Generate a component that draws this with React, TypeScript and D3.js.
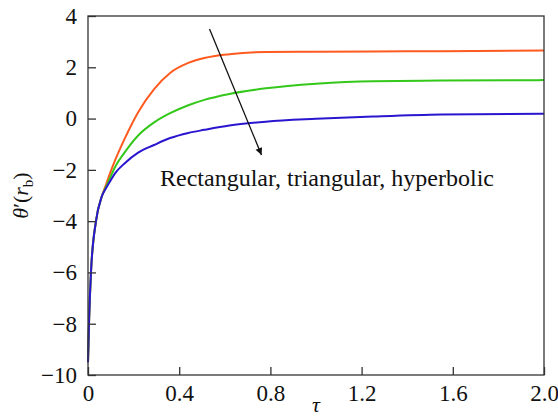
import React, { useEffect, useRef } from "react";
import * as d3 from "d3";

// values
const tau = [0, 0.005, 0.013, 0.035, 0.06, 0.08, 0.1, 0.12, 0.16, 0.22, 0.29, 0.36, 0.44, 0.51, 0.62, 0.78, 1.0, 1.25, 1.55, 2.0];
const rectangular = [-9.5, -7.8, -6, -4, -3.05, -2.55, -2.05, -1.6, -0.8, 0.25, 1.15, 1.78, 2.17, 2.36, 2.51, 2.6, 2.61, 2.62, 2.63, 2.65];
const triangular = [-9.5, -7.8, -6, -4, -3.05, -2.65, -2.25, -1.87, -1.33, -0.66, -0.15, 0.21, 0.52, 0.73, 0.96, 1.18, 1.36, 1.46, 1.48, 1.5];
const hyperbolic = [-9.5, -7.8, -6, -4, -3.05, -2.7, -2.4, -2.12, -1.75, -1.33, -1.03, -0.76, -0.56, -0.44, -0.27, -0.12, -0.01, 0.08, 0.16, 0.19];

const seriesColors = ["#ff5a1f", "#33c81a", "#2b16d0"];
const xTicks = [0, 0.4, 0.8, 1.2, 1.6, 2.0];
const yTicks = [4, 2, 0, -2, -4, -6, -8, -10];

const arrowFrom = [0.533, 3.49];
const arrowTo = [0.761, -1.42];
const noteAt = [0.316, -2.62];
const noteText = "Rectangular, triangular, hyperbolic";

const W = 558;
const H = 418;
const margin = { top: 16, right: 14, bottom: 43, left: 88 };

const App = () => {
  const ref = useRef(null);

  useEffect(() => {
    const root = d3.select(ref.current);
    root.selectAll("*").remove();

    const x = d3.scaleLinear().domain([0, 2]).range([margin.left, W - margin.right]);
    const y = d3.scaleLinear().domain([-10, 4]).range([H - margin.bottom, margin.top]);

    const font = "'Liberation Serif', 'Times New Roman', serif";

    const defs = root.append("defs");
    defs
      .append("marker")
      .attr("id", "head")
      .attr("viewBox", "0 0 10 10")
      .attr("refX", 10)
      .attr("refY", 5)
      .attr("markerWidth", 10)
      .attr("markerHeight", 7)
      .attr("markerUnits", "userSpaceOnUse")
      .attr("orient", "auto")
      .append("path")
      .attr("d", "M0,0 L10,5 L0,10 z")
      .attr("fill", "#111");

    // curves
    const line = d3
      .line()
      .x((d) => x(d[0]))
      .y((d) => y(d[1]))
      .curve(d3.curveMonotoneX);

    [rectangular, triangular, hyperbolic].forEach((vals, i) => {
      root
        .append("path")
        .datum(tau.map((t, j) => [t, vals[j]]))
        .attr("fill", "none")
        .attr("stroke", seriesColors[i])
        .attr("stroke-width", 2)
        .attr("d", line);
    });

    // axes (ticks pointing inward)
    const xAxis = root
      .append("g")
      .attr("transform", `translate(0,${H - margin.bottom})`)
      .call(
        d3
          .axisBottom(x)
          .tickValues(xTicks)
          .tickSize(-8)
          .tickPadding(10)
          .tickFormat((d) => (d === 0 ? "0" : d3.format(".1f")(d)))
      );
    const yAxis = root
      .append("g")
      .attr("transform", `translate(${margin.left},0)`)
      .call(d3.axisLeft(y).tickValues(yTicks).tickSize(-8).tickPadding(11));

    [xAxis, yAxis].forEach((g) => {
      g.select(".domain").remove();
      g.selectAll("line").attr("stroke", "#333").attr("stroke-width", 1.3);
      g.selectAll("text").attr("font-family", font).attr("font-size", 23).attr("fill", "#111");
    });

    // frame
    root
      .append("rect")
      .attr("x", x(0))
      .attr("y", y(4))
      .attr("width", x(2) - x(0))
      .attr("height", y(-10) - y(4))
      .attr("fill", "none")
      .attr("stroke", "#333")
      .attr("stroke-width", 1.3);

    // arrow + annotation
    root
      .append("line")
      .attr("x1", x(arrowFrom[0]))
      .attr("y1", y(arrowFrom[1]))
      .attr("x2", x(arrowTo[0]))
      .attr("y2", y(arrowTo[1]))
      .attr("stroke", "#111")
      .attr("stroke-width", 1.3)
      .attr("marker-end", "url(#head)");

    root
      .append("text")
      .attr("x", x(noteAt[0]))
      .attr("y", y(noteAt[1]))
      .attr("font-family", font)
      .attr("font-size", 24)
      .attr("fill", "#111")
      .text(noteText);

    // axis titles
    root
      .append("text")
      .attr("x", (x(0) + x(2)) / 2)
      .attr("y", 412)
      .attr("text-anchor", "middle")
      .attr("font-family", font)
      .attr("font-style", "italic")
      .attr("font-size", 22)
      .attr("fill", "#111")
      .text("τ");

    const yl = root
      .append("text")
      .attr("transform", `translate(28,${(y(4) + y(-10)) / 2}) rotate(-90)`)
      .attr("text-anchor", "middle")
      .attr("font-family", font)
      .attr("font-size", 22)
      .attr("fill", "#111");
    yl.append("tspan").attr("font-style", "italic").text("θ");
    yl.append("tspan").text("′(");
    yl.append("tspan").attr("font-style", "italic").text("r");
    yl.append("tspan").attr("font-size", 15).attr("dy", 5).text("b");
    yl.append("tspan").attr("dy", -5).text(")");
  }, []);

  return (
    <svg
      ref={ref}
      width={W}
      height={H}
      style={{ position: "absolute", left: 0, top: 0, background: "#fff", display: "block" }}
    />
  );
};

export default App;
